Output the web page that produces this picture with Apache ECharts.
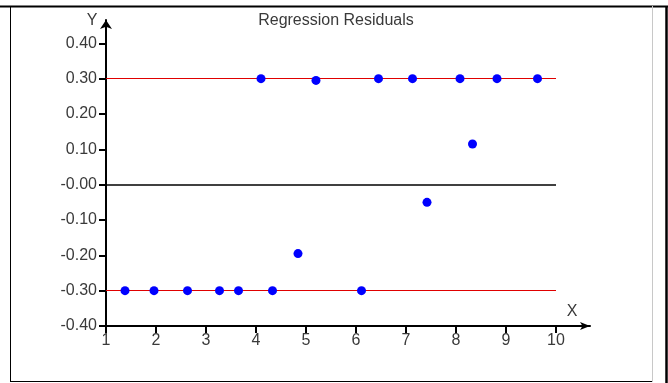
<!DOCTYPE html>
<html>
<head>
<meta charset="utf-8">
<script src="https://cdn.jsdelivr.net/npm/echarts@6/dist/echarts.min.js"></script>
<style>
html,body{margin:0;padding:0;background:#fff;}
#chart{width:668px;height:383px;}
</style>
</head>
<body>
<div id="chart"></div>
<script>
// ---- data ----
const titleText = 'Regression Residuals';
const xVals = [1.38, 1.96, 2.63, 3.27, 3.65, 4.10, 4.33, 4.84, 5.20, 6.11, 6.45, 7.13, 7.42, 8.08, 8.33, 8.82, 9.63];
const yVals = [-0.30, -0.30, -0.30, -0.30, -0.30, 0.30, -0.30, -0.195, 0.295, -0.30, 0.30, 0.30, -0.05, 0.30, 0.115, 0.30, 0.30];
const xTicks = [1, 2, 3, 4, 5, 6, 7, 8, 9, 10];
const yTicks = [-0.4, -0.3, -0.2, -0.1, 0, 0.1, 0.2, 0.3, 0.4];
const yTickLabels = ['-0.40', '-0.30', '-0.20', '-0.10', '-0.00', '0.10', '0.20', '0.30', '0.40'];
const bandLevels = [0.30, -0.30];
const zeroLevel = 0;
const lineXRange = [1, 10];

const points = xVals.map((x, i) => [x, yVals[i]]);
const font = '"Liberation Sans", Arial, sans-serif';
const txt = '#3a3a3a';

const chart = echarts.init(document.getElementById('chart'), null, {renderer: 'canvas'});
const markData = bandLevels.map(v => [
  {coord: [lineXRange[0], v], lineStyle: {color: '#e00000', width: 1}},
  {coord: [lineXRange[1], v]}
]);
markData.push([
  {coord: [lineXRange[0], zeroLevel], lineStyle: {color: '#000', width: 1.5}},
  {coord: [lineXRange[1], zeroLevel]}
]);

chart.setOption({
  animation: false,
  backgroundColor: '#fff',
  title: {
    text: titleText, left: 331, top: 8, textAlign: 'center',
    textStyle: {fontFamily: font, fontSize: 16, fontWeight: 'normal', color: txt}
  },
  grid: {left: 106, right: 78, top: 20, bottom: 57, containLabel: false, outerBoundsMode: 'none'},
  xAxis: {
    type: 'value', min: 1, max: 10.68,
    axisLine: {show: true, onZero: false, lineStyle: {color: '#000', width: 2}, symbol: ['none', 'arrow'], symbolSize: [6, 10]},
    axisTick: {show: true, length: 7, lineStyle: {color: '#000', width: 2}, customValues: xTicks},
    axisLabel: {customValues: xTicks, margin: 7, color: txt, fontFamily: font, fontSize: 16},
    splitLine: {show: false}
  },
  yAxis: {
    type: 'value', min: -0.4, max: 0.466,
    axisLine: {show: true, onZero: false, lineStyle: {color: '#000', width: 2}, symbol: ['none', 'arrow'], symbolSize: [9, 9]},
    axisTick: {show: true, length: 7, lineStyle: {color: '#000', width: 2}, customValues: yTicks},
    axisLabel: {
      customValues: yTicks, margin: 9, color: txt, fontFamily: font, fontSize: 16,
      formatter: v => yTickLabels[Math.round((v + 0.4) / 0.1)]
    },
    splitLine: {show: false}
  },
  graphic: [
    {type: 'line', shape: {x1: 0, y1: 6.5, x2: 668, y2: 6.5}, style: {stroke: '#000', lineWidth: 2}, silent: true},
    {type: 'line', shape: {x1: 10.5, y1: 6, x2: 10.5, y2: 381.5}, style: {stroke: '#000', lineWidth: 1}, silent: true},
    {type: 'line', shape: {x1: 10, y1: 381.5, x2: 652, y2: 381.5}, style: {stroke: '#000', lineWidth: 1}, silent: true},
    {type: 'line', shape: {x1: 652.5, y1: 6, x2: 652.5, y2: 382}, style: {stroke: '#c8c8c8', lineWidth: 1}, silent: true},
    {type: 'line', shape: {x1: 666.5, y1: 6, x2: 666.5, y2: 383}, style: {stroke: '#000', lineWidth: 2.5}, silent: true},
    {type: 'text', x: 92, y: 21, style: {text: 'Y', fontFamily: font, fontSize: 16, fill: txt, align: 'center', verticalAlign: 'middle'}, silent: true},
    {type: 'text', x: 572, y: 312, style: {text: 'X', fontFamily: font, fontSize: 16, fill: txt, align: 'center', verticalAlign: 'middle'}, silent: true}
  ],
  series: [{
    type: 'scatter',
    data: points,
    symbol: 'circle',
    symbolSize: 9,
    itemStyle: {color: '#0000ff', opacity: 1},
    z: 5,
    markLine: {
      silent: true, symbol: ['none', 'none'], label: {show: false},
      lineStyle: {type: 'solid'},
      data: markData,
      z: 2
    }
  }]
});
</script>
</body>
</html>
